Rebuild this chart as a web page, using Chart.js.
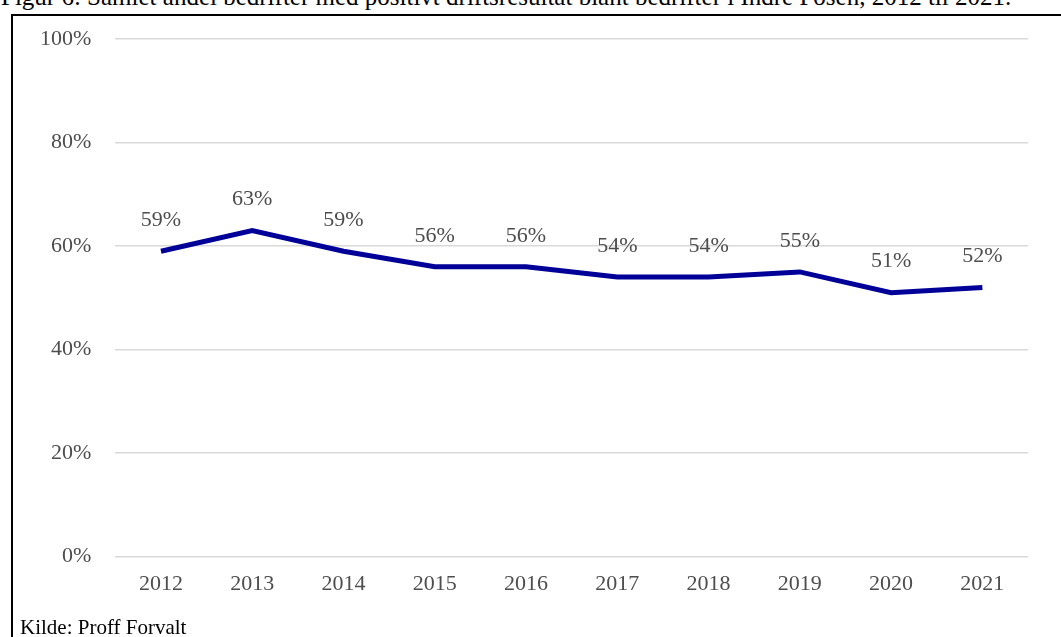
<!DOCTYPE html>
<html>
<head>
<meta charset="utf-8">
<script src="https://cdn.jsdelivr.net/npm/chart.js@4.4.1/dist/chart.umd.min.js"></script>
<style>
  html, body { margin: 0; padding: 0; background: #fff; }
  body { width: 1061px; height: 637px; position: relative; overflow: hidden; font-family: "Liberation Serif", "Times New Roman", serif; }
  #title { position: absolute; left: 1px; top: -17px; font-size: 25px; color: #000; white-space: nowrap; }
  #frame { position: absolute; left: 11px; top: 14px; width: 1100px; height: 700px; border: 2px solid #000; box-sizing: border-box; }
  #wrap { position: absolute; left: 0; top: 0; width: 1061px; height: 637px; }
  #source { position: absolute; left: 20px; top: 615px; font-size: 21px; color: #000; white-space: nowrap; }
</style>
</head>
<body>
<div id="title">Figur 6: Samlet andel bedrifter med positivt driftsresultat blant bedrifter i Indre Fosen, 2012 til 2021.</div>
<div id="frame"></div>
<div id="wrap"><canvas id="c" width="1061" height="637"></canvas></div>
<div id="source">Kilde: Proff Forvalt</div>
<script>
// Years on the category axis
const years = ["2012", "2013", "2014", "2015", "2016", "2017", "2018", "2019", "2020", "2021"];
// Share of firms with a positive operating result (%)
const positiveShare = [59, 63, 59, 56, 56, 54, 54, 55, 51, 52];
// Value-axis ticks (%)
const yTicks = [0, 20, 40, 60, 80, 100];

const serif = '"Liberation Serif", "Times New Roman", serif';

// Writes each point's value above it
const pointLabels = {
  id: 'pointLabels',
  afterDatasetsDraw(chart) {
    const ctx = chart.ctx;
    const meta = chart.getDatasetMeta(0);
    ctx.save();
    ctx.font = '22px ' + serif;
    ctx.fillStyle = '#4d4d4d';
    ctx.textAlign = 'center';
    ctx.textBaseline = 'middle';
    meta.data.forEach((pt, i) => {
      ctx.fillText(positiveShare[i] + '%', pt.x, pt.y - 31);
    });
    ctx.restore();
  }
};

new Chart(document.getElementById('c'), {
  type: 'line',
  data: {
    labels: years,
    datasets: [{
      data: positiveShare,
      borderColor: '#000099',
      borderWidth: 5,
      pointRadius: 0,
      tension: 0,
      fill: false
    }]
  },
  options: {
    responsive: false,
    animation: false,
    devicePixelRatio: 1,
    layout: { padding: { left: 16, right: 33, top: 39, bottom: 34 } },
    plugins: { legend: { display: false }, tooltip: { enabled: false } },
    scales: {
      x: {
        offset: true,
        grid: { display: false },
        border: { display: false },
        ticks: { color: '#4d4d4d', font: { family: serif, size: 22 }, padding: 6, maxRotation: 0 }
      },
      y: {
        min: 0, max: 100,
        afterBuildTicks(scale) { scale.ticks = yTicks.map(v => ({ value: v })); },
        grid: { color: '#d9d9d9', lineWidth: 1.5, drawTicks: false },
        border: { display: false },
        ticks: { color: '#4d4d4d', font: { family: serif, size: 22 }, padding: 24, callback: v => v + '%' }
      }
    }
  },
  plugins: [pointLabels]
});
</script>
</body>
</html>
